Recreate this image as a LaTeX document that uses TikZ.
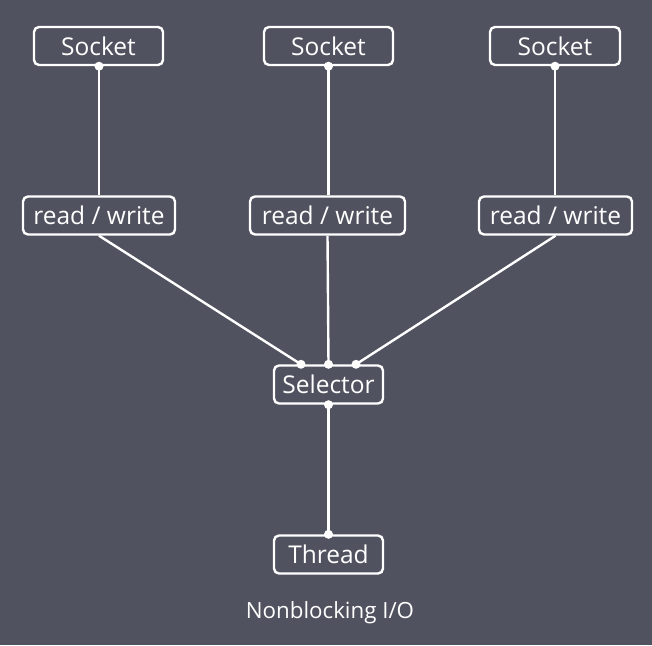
\documentclass[tikz,border=0pt]{standalone}
\usepackage{fontspec}
\setmainfont{Open Sans}
\definecolor{bg}{HTML}{50535F}
\tikzset{
  box/.style={draw=white, line width=2.4pt, rounded corners=5pt, fill=bg,
    text=white, inner sep=0pt, minimum height=38pt, font=\fontsize{24.5}{27}\selectfont},
  link/.style={draw=white, line width=2.4pt},
  dot/.style={circle, fill=white, inner sep=0pt, minimum size=9pt},
}
\begin{document}
\begin{tikzpicture}[x=1pt,y=-1pt]
\fill[bg] (0,0) rectangle (652,645);
\useasboundingbox (0,0) rectangle (652,645);
\node[box, minimum width=129pt] (s1) at (98.5,46) {Socket};
\node[box, minimum width=129pt] (s2) at (328.5,46) {Socket};
\node[box, minimum width=130pt] (s3) at (555,46) {Socket};
\node[box, minimum width=152pt] (r1) at (99,215.5) {read / write};
\node[box, minimum width=155pt] (r2) at (327.5,215.5) {read / write};
\node[box, minimum width=153pt] (r3) at (555.5,215.5) {read / write};
\node[box, minimum width=109pt] (sel) at (328.5,384.5) {Selector};
\node[box, minimum width=109pt] (th) at (328.5,554.5) {Thread};
\node[text=white, font=\fontsize{22.3}{26}\selectfont] (cap) at (330,613) {Nonblocking I/O};
\coordinate (sl) at ([xshift=-27.5pt]sel.north);
\coordinate (sr) at ([xshift=27.5pt]sel.north);
\draw[link] (s1.south -| r1.north) -- (r1.north);
\draw[link] (s2.south) -- (s2.south |- r2.north);
\draw[link] (s3.south) -- (s3.south |- r3.north);
\draw[link] (r1.south) -- (sl);
\draw[link] (r2.south) -- (sel.north);
\draw[link] (r3.south) -- (sr);
\draw[link] (sel.south) -- (th.north);
\node[dot] (d1) at (s1.south -| r1.north) {};
\node[dot] (d2) at (s2.south) {};
\node[dot] (d3) at (s3.south) {};
\node[dot] (d4) at (sl) {};
\node[dot] (d5) at (sel.north) {};
\node[dot] (d6) at (sr) {};
\node[dot] (d7) at (sel.south) {};
\node[dot] (d8) at (th.north) {};
\end{tikzpicture}
\end{document}
